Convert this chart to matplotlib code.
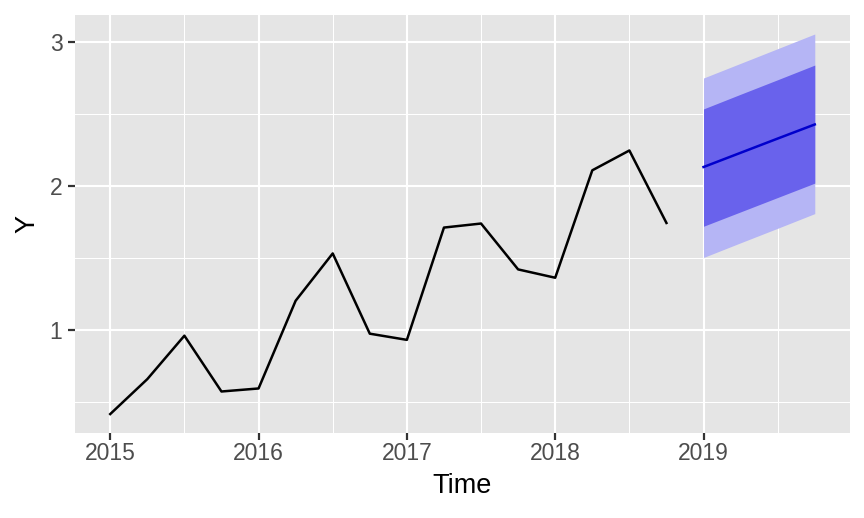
import matplotlib.pyplot as plt
from matplotlib.ticker import MultipleLocator

plt.rcParams['font.family'] = ['Liberation Sans', 'DejaVu Sans']

# observed quarterly series
time = [2015.00, 2015.25, 2015.50, 2015.75, 2016.00, 2016.25, 2016.50, 2016.75,
        2017.00, 2017.25, 2017.50, 2017.75, 2018.00, 2018.25, 2018.50, 2018.75]
y = [0.415, 0.658, 0.96, 0.572, 0.593, 1.203, 1.532, 0.974,
     0.931, 1.712, 1.740, 1.421, 1.363, 2.110, 2.248, 1.744]

# forecast
fc_time = [2019.00, 2019.25, 2019.50, 2019.75]
fc_mean = [2.133, 2.232, 2.331, 2.429]
lo80 = [1.721, 1.821, 1.921, 2.021]
hi80 = [2.537, 2.639, 2.740, 2.842]
lo95 = [1.504, 1.606, 1.707, 1.809]
hi95 = [2.752, 2.854, 2.956, 3.058]

fig = plt.figure(figsize=(8.64, 5.18), dpi=100)
ax = fig.add_axes([0.0868, 0.164, 0.897, 0.807])
ax.set_facecolor('#E5E5E5')

ax.fill_between(fc_time, lo95, hi95, color='#B5B5F5', lw=0, zorder=2)
ax.fill_between(fc_time, lo80, hi80, color='#6962EC', lw=0, zorder=3)
ax.plot(fc_time, fc_mean, color='#0000CC', lw=1.8, zorder=4)
ax.plot(time, y, color='black', lw=1.8, zorder=4)

ax.set_xlim(2014.7625, 2019.9875)
ax.set_ylim(0.283, 3.19)
ax.xaxis.set_minor_locator(MultipleLocator(0.5))
ax.yaxis.set_minor_locator(MultipleLocator(0.5))
ax.set_xticks([2015, 2016, 2017, 2018, 2019])
ax.set_xticklabels(['2015', '2016', '2017', '2018', '2019'])
ax.set_yticks([1, 2, 3])

ax.grid(which='major', color='white', lw=1.5, zorder=0)
ax.grid(which='minor', color='white', lw=0.75, zorder=0)
ax.set_axisbelow(True)
for s in ax.spines.values():
    s.set_visible(False)

ax.tick_params(which='major', length=5, width=1.6, color='#333333',
               labelsize=16.5, labelcolor='#4D4D4D')
ax.tick_params(axis='x', pad=1.5)
ax.tick_params(axis='y', pad=4)
ax.tick_params(which='minor', length=0)

ax.set_xlabel('Time', fontsize=19.5, labelpad=6)
ax.set_ylabel('Y', fontsize=19.5, labelpad=6.5)

fig.savefig('out.png', dpi=100)
